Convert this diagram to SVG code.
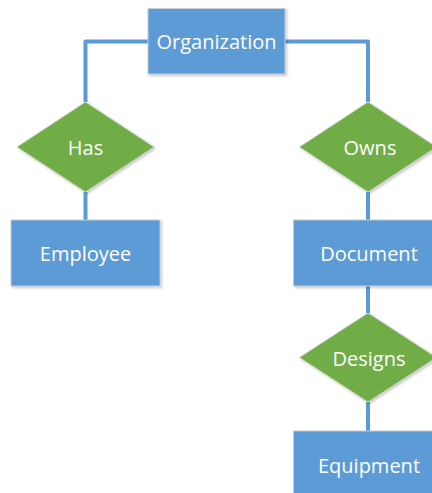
<svg xmlns="http://www.w3.org/2000/svg" width="432" height="493" viewBox="0 0 432 493">
  <defs>
    <filter id="shadow" x="-10%" y="-10%" width="130%" height="130%">
      <feDropShadow dx="1.5" dy="1.5" stdDeviation="1.2" flood-color="#000" flood-opacity="0.22"/>
    </filter>
    <style>
      .entity { fill: #5B9BD5; stroke: #c4ccd6; stroke-width: 1; filter: url(#shadow); }
      .relation { fill: #70AD47; stroke: #c8d0c0; stroke-width: 1; filter: url(#shadow); }
      .label { fill: #ffffff; font-family: "Open Sans", "Liberation Sans", sans-serif; font-size: 20px; text-anchor: middle; dominant-baseline: central; }
      .link { fill: none; stroke: #5B9BD5; stroke-width: 4; stroke-linejoin: round; }
    </style>
  </defs>
  <rect width="432" height="493" fill="#ffffff"/>

  <g id="connectors">
    <polyline class="link" points="148,41.5 85.5,41.5 85.5,102"/>
    <polyline class="link" points="285,41.5 368,41.5 368,102"/>
    <line class="link" x1="85.5" y1="192" x2="85.5" y2="220"/>
    <line class="link" x1="368" y1="192" x2="368" y2="220"/>
    <line class="link" x1="368" y1="286" x2="368" y2="313"/>
    <line class="link" x1="368" y1="402" x2="368" y2="431"/>
  </g>

  <g id="organization">
    <rect class="entity" x="148" y="8.5" width="137" height="65.5"/>
    <text class="label" x="216.5" y="41">Organization</text>
  </g>

  <g id="has">
    <polygon class="relation" points="85.5,102 154,147 85.5,192 17,147"/>
    <text class="label" x="85.5" y="147">Has</text>
  </g>

  <g id="owns">
    <polygon class="relation" points="368,102 436.5,147 368,192 299.5,147"/>
    <text class="label" x="370" y="147">Owns</text>
  </g>

  <g id="employee">
    <rect class="entity" x="11" y="220" width="149" height="66"/>
    <text class="label" x="85.5" y="253">Employee</text>
  </g>

  <g id="document">
    <rect class="entity" x="293.5" y="220" width="149" height="66"/>
    <text class="label" x="369" y="253">Document</text>
  </g>

  <g id="designs">
    <polygon class="relation" points="368,313 436.5,357.5 368,402 299.5,357.5"/>
    <text class="label" x="369" y="358">Designs</text>
  </g>

  <g id="equipment">
    <rect class="entity" x="293.5" y="431" width="149" height="66"/>
    <text class="label" x="369" y="465">Equipment</text>
  </g>
</svg>
